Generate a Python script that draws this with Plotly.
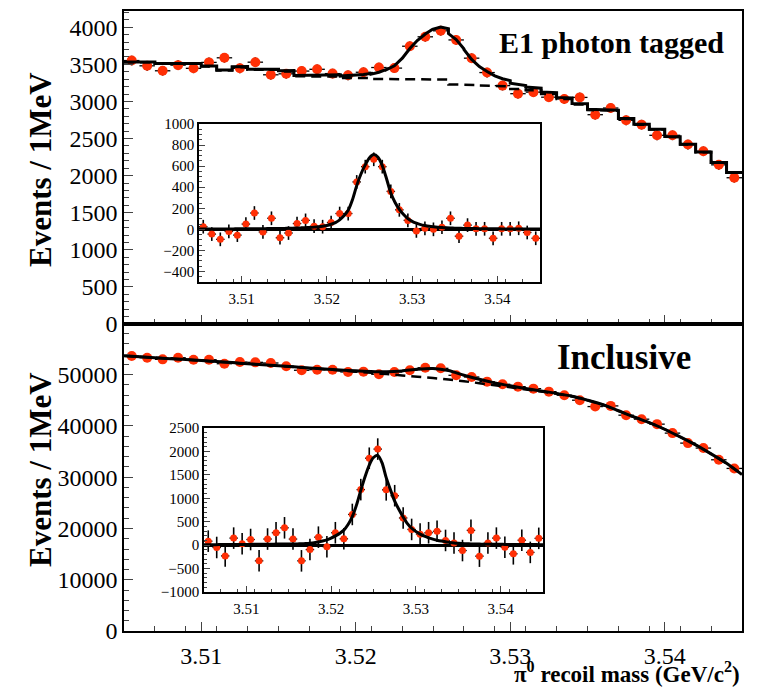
import plotly.graph_objects as go

# ---------------- data ----------------
# bin centres (1 MeV bins) of the pi0 recoil mass, GeV/c^2
mass_bins = [3.5055, 3.5065, 3.5075, 3.5085, 3.5095, 3.5105, 3.5115, 3.5125, 3.5135, 3.5145,
             3.5155, 3.5165, 3.5175, 3.5185, 3.5195, 3.5205, 3.5215, 3.5225, 3.5235, 3.5245,
             3.5255, 3.5265, 3.5275, 3.5285, 3.5295, 3.5305, 3.5315, 3.5325, 3.5335, 3.5345,
             3.5355, 3.5365, 3.5375, 3.5385, 3.5395, 3.5405, 3.5415, 3.5425, 3.5435, 3.5445]
# fine grid (half-MeV) used for the fitted curves: bin edges and centres
curve_x = [round(3.505 + 0.0005 * k, 5) for k in range(81)]

# E1 photon tagged: events per bin
tagged_counts = [3552, 3481, 3414, 3490, 3447, 3527, 3589, 3447, 3530, 3360,
                 3373, 3410, 3434, 3376, 3353, 3394, 3458, 3450, 3745, 3872,
                 3953, 3830, 3584, 3390, 3214, 3105, 3126, 3058, 3033, 3055,
                 2822, 2912, 2746, 2688, 2544, 2544, 2419, 2329, 2146, 1972]
# E1 photon tagged: fitted background level per bin (dashed, stepped)
tagged_bkg = [3530, 3530, 3508, 3508, 3508, 3472, 3418, 3463, 3427, 3427,
              3405, 3340, 3338, 3336, 3318, 3315, 3305, 3302, 3300, 3298,
              3295, 3230, 3222, 3215, 3205, 3170, 3150, 3100, 3035, 2960,
              2885, 2875, 2764, 2688, 2621, 2522, 2419, 2316, 2173, 2039]
# E1 photon tagged: fitted signal on the half-MeV grid
tagged_signal = [3, 3, 3, 3, 4, 4, 4, 4, 4, 5, 5, 5, 5, 6, 6, 6, 7, 7, 8, 8, 9,
                 10, 11, 12, 14, 16, 18, 21, 25, 30, 37, 48, 64, 90, 128, 180, 280,
                 415, 525, 612, 680, 710, 685, 605, 480, 345, 255, 190, 140, 102, 76,
                 58, 45, 36, 29, 24, 20, 17, 14, 12, 11, 10, 9, 8, 7, 7, 6, 6, 5, 5,
                 5, 4, 4, 4, 4, 3, 3, 3, 3, 3, 3]
# E1 photon tagged: background-subtracted events (inset)
tagged_sub = [25, -45, -95, -20, -55, 50, 155, -25, 105, -80,
              -35, 55, 85, 30, 25, 65, 150, 150, 450, 595,
              665, 595, 360, 185, 85, -15, 10, 0, 20, 105,
              -65, 40, 5, 5, -85, 5, 5, 10, -30, -85]
tagged_err = 65

# Inclusive: events per bin
incl_counts = [53650, 53320, 53000, 53320, 52930, 52930, 52150, 52480, 52420, 52290,
               51640, 50870, 50990, 50990, 50540, 50600, 50090, 50540, 50870, 51370,
               51250, 49890, 49560, 48650, 48140, 47680, 47290, 46700, 46000, 45030,
               43790, 43920, 42110, 41330, 40360, 38610, 36660, 35690, 33410, 31720]
# Inclusive: fitted background at bin edges (41 values, 1 MeV apart)
incl_bkg = [53700, 53510, 53320, 53130, 52940, 52745, 52545, 52345, 52140, 51935,
            51725, 51510, 51290, 51065, 50835, 50605, 50370, 50125, 49875, 49620,
            49355, 49060, 48730, 48350, 47950, 47550, 47130, 46710, 46280, 45750,
            45000, 44150, 42950, 41750, 40650, 39350, 37850, 36300, 34550, 32700,
            30500]
# Inclusive: fitted signal on the half-MeV grid
incl_signal = [10, 10, 11, 11, 12, 12, 13, 13, 14, 15, 15, 16, 17, 18, 19, 20, 21, 22,
               23, 24, 25, 26, 27, 29, 34, 42, 53, 68, 88, 113, 150, 198, 250, 320,
               440, 610, 860, 1170, 1460, 1710, 1870, 1915, 1760, 1440, 1180, 940,
               760, 600, 460, 360, 290, 235, 190, 155, 128, 106, 87, 71, 56, 45, 38,
               33, 29, 26, 24, 22, 21, 20, 19, 18, 17, 16, 15, 15, 14, 13, 13, 12,
               12, 11, 11]
# Inclusive: background-subtracted events (inset)
incl_sub = [85, -50, -230, 150, 30, 120, -335, 130, 265, 370,
            130, -335, -95, 170, -35, 265, 135, 655, 1185, 1855,
            2050, 1180, 1055, 580, 335, 235, 265, 295, 100, 45,
            -115, 315, -235, 45, 150, -45, -185, 105, -155, 145]
incl_err = 230

half_bin = 0.0005
x_ticks = [3.51, 3.52, 3.53, 3.54]

# ---------------- derived curves ----------------
# stepped background + smooth signal (top panel)
tag_tot_x, tag_tot_y, tag_bkg_x, tag_bkg_y = [], [], [], []
for i, b in enumerate(tagged_bkg):
    for k in (2 * i, 2 * i + 1, 2 * i + 2):
        tag_tot_x.append(curve_x[k])
        tag_tot_y.append(b + tagged_signal[k])
    tag_bkg_x += [curve_x[2 * i], curve_x[2 * i + 2]]
    tag_bkg_y += [b, b]

edge_x = curve_x[0::2]
incl_tot_y = [b + s for b, s in zip(incl_bkg, incl_signal[0::2])]

# ---------------- figure ----------------
W, H = 765, 689
RED = "#ff2f05"
SERIF = "Liberation Serif, Times New Roman, serif"


def px(x):
    return x / W


def py(y):
    return 1 - y / H


fig = go.Figure()


def points(x, y, err, xa, ya, size):
    fig.add_trace(go.Scatter(
        x=x, y=y, mode="markers", xaxis=xa, yaxis=ya,
        marker=dict(color=RED, size=size, line=dict(width=0)),
        error_x=dict(type="constant", value=half_bin, color="black", thickness=1.3, width=0),
        error_y=dict(type="constant", value=err, color="black", thickness=1.6, width=0),
        showlegend=False, hoverinfo="skip"))


# top main
points(mass_bins, tagged_counts, tagged_err, "x", "y", 10)
fig.add_trace(go.Scatter(x=tag_bkg_x, y=tag_bkg_y, mode="lines", xaxis="x", yaxis="y",
                         line=dict(color="black", width=2.5, dash="10px,6px"), showlegend=False))
fig.add_trace(go.Scatter(x=tag_tot_x, y=tag_tot_y, mode="lines", xaxis="x", yaxis="y",
                         line=dict(color="black", width=3), showlegend=False))

# bottom main
points(mass_bins, incl_counts, incl_err, "x2", "y2", 10)
fig.add_trace(go.Scatter(x=edge_x, y=incl_bkg, mode="lines", xaxis="x2", yaxis="y2",
                         line=dict(color="black", width=2.5, dash="10px,6px", shape="spline"),
                         showlegend=False))
fig.add_trace(go.Scatter(x=edge_x, y=incl_tot_y, mode="lines", xaxis="x2", yaxis="y2",
                         line=dict(color="black", width=3, shape="spline", smoothing=0.6),
                         showlegend=False))

# top inset
points(mass_bins, tagged_sub, tagged_err, "x3", "y3", 7)
fig.add_trace(go.Scatter(x=curve_x, y=tagged_signal, mode="lines", xaxis="x3", yaxis="y3",
                         line=dict(color="black", width=3, shape="spline", smoothing=0.8),
                         showlegend=False))

# bottom inset
points(mass_bins, incl_sub, incl_err, "x4", "y4", 7)
fig.add_trace(go.Scatter(x=curve_x, y=incl_signal, mode="lines", xaxis="x4", yaxis="y4",
                         line=dict(color="black", width=3, shape="spline", smoothing=0.8),
                         showlegend=False))


def xax(domain, anchor, labels, fsize, tlen, standoff):
    return dict(domain=domain, anchor=anchor, range=[3.505, 3.545], automargin=False,
                tickvals=x_ticks, ticktext=[f"{v:.2f}" for v in x_ticks],
                showticklabels=labels, ticks="inside", ticklen=tlen, tickwidth=1.3,
                ticklabelstandoff=standoff,
                minor=dict(dtick=0.002, tick0=3.505, ticks="inside", ticklen=tlen * 0.55, tickwidth=1),
                showline=True, mirror=True, linecolor="black", linewidth=1.5,
                showgrid=False, zeroline=False,
                tickfont=dict(family=SERIF, size=fsize, color="black"))


def yax(domain, anchor, rng, dtick, mdtick, fsize, tlen, zero=False):
    return dict(domain=domain, anchor=anchor, range=rng, dtick=dtick, tick0=0,
                automargin=False, tickformat="d",
                ticks="inside", ticklen=tlen, tickwidth=1.3,
                minor=dict(dtick=mdtick, tick0=0, ticks="inside", ticklen=tlen * 0.55, tickwidth=1),
                showline=True, mirror=True, linecolor="black", linewidth=1.5,
                showgrid=False, zeroline=zero, zerolinecolor="black", zerolinewidth=3,
                tickfont=dict(family=SERIF, size=fsize, color="black"))


fig.update_layout(
    width=W, height=H, margin=dict(l=0, r=0, t=0, b=0, autoexpand=False),
    paper_bgcolor="white", plot_bgcolor="white",
    xaxis=xax([px(124), px(742)], "y", False, 24, 9, 0),
    yaxis=yax([py(324), py(11)], "x", [0, 4220], 500, 100, 24, 9),
    xaxis2=xax([px(124), px(742)], "y2", True, 24, 9, 2),
    yaxis2=yax([py(631), py(324)], "x2", [0, 59900], 10000, 2000, 24, 9),
    xaxis3=xax([px(199), px(540)], "y3", True, 15, 6, 2),
    yaxis3=yax([py(282), py(124)], "x3", [-500, 1000], 200, 50, 15, 6, zero=True),
    xaxis4=xax([px(204), px(543)], "y4", True, 15, 6, 2),
    yaxis4=yax([py(592), py(428)], "x4", [-1000, 2500], 500, 100, 15, 6, zero=True),
)

ann = [
    dict(text="<b>E1 photon tagged</b>", x=px(611), y=py(42), size=30),
    dict(text="<b>Inclusive</b>", x=px(624), y=py(357), size=35),
]
for a in ann:
    fig.add_annotation(text=a["text"], x=a["x"], y=a["y"], xref="paper", yref="paper",
                       xanchor="center", yanchor="middle", showarrow=False,
                       font=dict(family=SERIF, size=a["size"], color="black"))
for yc in (170, 470):
    fig.add_annotation(text="<b>Events / 1MeV</b>", x=px(40), y=py(yc), xref="paper", yref="paper",
                       xanchor="center", yanchor="middle", showarrow=False, textangle=-90,
                       font=dict(family=SERIF, size=31, color="black"))
fig.add_annotation(text="<b>\u03c0<sup>0</sup> recoil mass (GeV/c<sup>2</sup>)</b>",
                   x=px(742), y=py(689), xref="paper", yref="paper",
                   xanchor="right", yanchor="bottom",
                   showarrow=False, font=dict(family=SERIF, size=23, color="black"))

fig.write_html("out.html", config={"displayModeBar": False},
               post_script="document.body.style.margin='0';document.body.style.overflow='hidden';")
